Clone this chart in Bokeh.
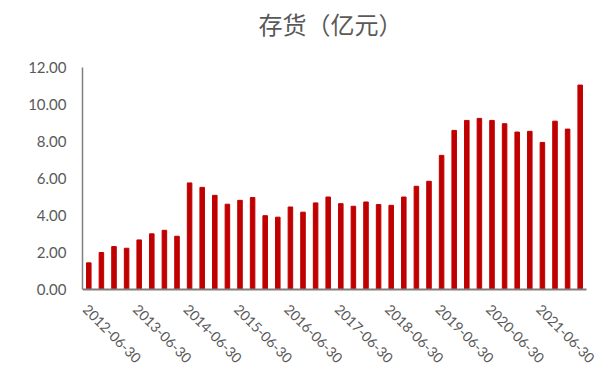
import math
from bokeh.plotting import figure
from bokeh.models import Range1d, FixedTicker, NumeralTickFormatter
from bokeh.embed import file_html
from bokeh.resources import INLINE

# Quarterly inventory, 100 million yuan
quarters = [
    "2012-06-30", "2012-09-30", "2012-12-31", "2013-03-31",
    "2013-06-30", "2013-09-30", "2013-12-31", "2014-03-31",
    "2014-06-30", "2014-09-30", "2014-12-31", "2015-03-31",
    "2015-06-30", "2015-09-30", "2015-12-31", "2016-03-31",
    "2016-06-30", "2016-09-30", "2016-12-31", "2017-03-31",
    "2017-06-30", "2017-09-30", "2017-12-31", "2018-03-31",
    "2018-06-30", "2018-09-30", "2018-12-31", "2019-03-31",
    "2019-06-30", "2019-09-30", "2019-12-31", "2020-03-31",
    "2020-06-30", "2020-09-30", "2020-12-31", "2021-03-31",
    "2021-06-30", "2021-09-30", "2021-12-31", "2022-03-31",
]
inventory = [
    1.44, 2.00, 2.32, 2.23, 2.68, 3.01, 3.20, 2.88,
    5.76, 5.52, 5.09, 4.61, 4.82, 4.97, 3.99, 3.91,
    4.46, 4.18, 4.68, 5.00, 4.64, 4.50, 4.73, 4.59,
    4.55, 5.00, 5.58, 5.85, 7.25, 8.60, 9.14, 9.25,
    9.14, 8.96, 8.51, 8.55, 7.95, 9.10, 8.67, 11.05,
]
y_ticks = [0, 2, 4, 6, 8, 10, 12]
label_every = 4
title_text = "存货（亿元）"

GRAY = "#595959"
AXIS_GRAY = "#7f7f7f"
FONT = "Lato"

xs = list(range(len(quarters)))
tick_idx = xs[::label_every]
y_min, y_max = y_ticks[0], y_ticks[-1]
x_lo, x_hi = -0.5, len(quarters) - 0.5

# The plotting frame fills the page to the right of the value axis, so the
# title and the slanted date labels can be drawn as text inside it; the
# value axis line itself is bounded to 0..12.
PX_PER_UNIT = 222 / 12      # vertical scale
PX_PER_CAT = 504 / 40       # horizontal scale
TOP_PX, BOTTOM_PX, RIGHT_PX = 67, 80, 19

p = figure(
    width=605, height=369,
    output_backend="svg", toolbar_location=None,
    x_range=Range1d(x_lo, x_hi + RIGHT_PX / PX_PER_CAT),
    y_range=Range1d(y_min - BOTTOM_PX / PX_PER_UNIT, y_max + TOP_PX / PX_PER_UNIT),
    min_border_left=82, min_border_right=0,
    min_border_top=0, min_border_bottom=0,
)
p.outline_line_color = None
p.background_fill_color = "white"
p.border_fill_color = "white"

p.vbar(x=xs, top=inventory, width=0.36, color="#C00000")

p.xgrid.visible = False
p.ygrid.visible = False
p.xaxis.visible = False

# value axis
p.yaxis.bounds = (y_min, y_max)
p.yaxis.ticker = FixedTicker(ticks=y_ticks)
p.yaxis.formatter = NumeralTickFormatter(format="0.00")
p.yaxis.major_tick_line_color = None
p.yaxis.minor_tick_line_color = None
p.yaxis.major_tick_out = 0
p.yaxis.major_tick_in = 0
p.yaxis.axis_line_color = AXIS_GRAY
p.yaxis.axis_line_width = 1.5
p.yaxis.major_label_text_font = FONT
p.yaxis.major_label_text_font_size = "15px"
p.yaxis.major_label_text_color = GRAY
p.yaxis.major_label_standoff = 16

# category baseline
p.line(x=[x_lo, x_hi], y=[y_min, y_min], line_color=AXIS_GRAY, line_width=2)

# yearly date labels, slanted down to the right
p.text(
    x=tick_idx, y=[y_min] * len(tick_idx),
    text=[quarters[i] for i in tick_idx],
    angle=-math.pi / 4, y_offset=14,
    text_align="left", text_baseline="top",
    text_font={"value": FONT}, text_font_size="14px", text_color=GRAY,
)

# chart title
p.text(
    x=[(x_lo + x_hi) / 2], y=[y_max], text=[title_text],
    x_offset=-4, y_offset=-44,
    text_align="center", text_baseline="middle",
    text_font={"value": "Noto Sans CJK SC"}, text_font_size="24px",
    text_color=GRAY,
)

open("out.html", "w").write(file_html(p, INLINE))
